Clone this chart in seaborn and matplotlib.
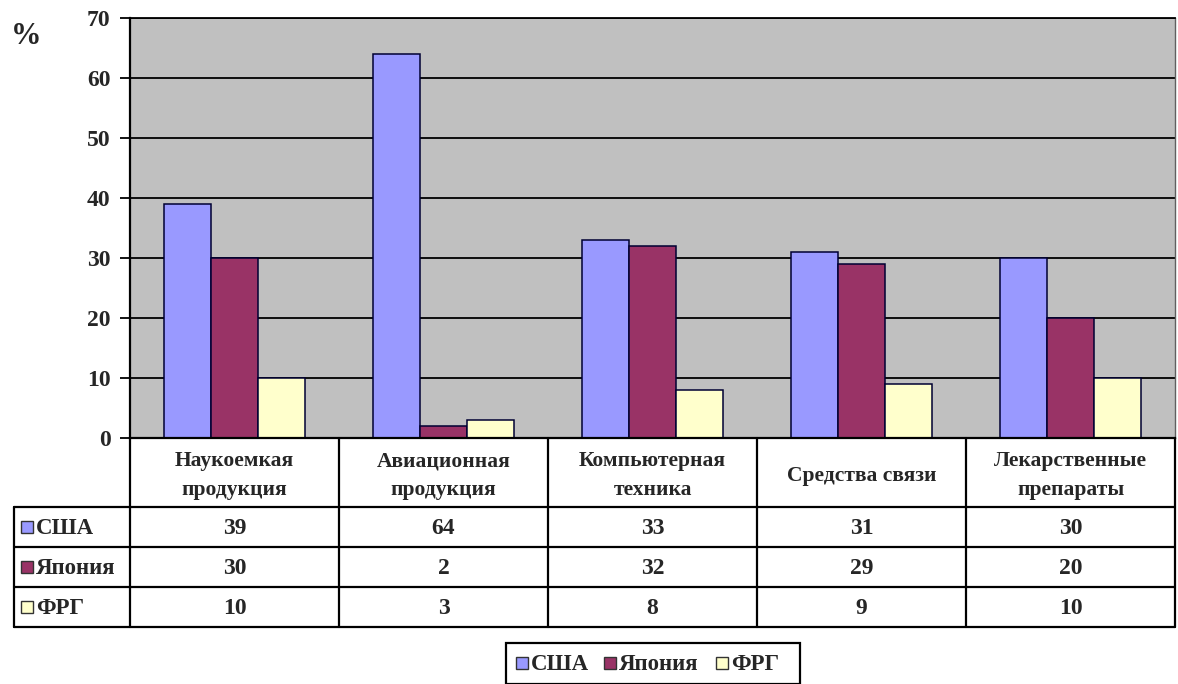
import pandas as pd
import seaborn as sns
import matplotlib.pyplot as plt
from matplotlib.patches import Rectangle

categories = ["Наукоемкая\nпродукция", "Авиационная\nпродукция", "Компьютерная\nтехника",
              "Средства связи", "Лекарственные\nпрепараты"]
countries = ["США", "Япония", "ФРГ"]
usa = [39, 64, 33, 31, 30]
japan = [30, 2, 32, 29, 20]
frg = [10, 3, 8, 9, 10]
colors = ["#9999FF", "#993366", "#FFFFCC"]
yticks = [0, 10, 20, 30, 40, 50, 60, 70]

series = [usa, japan, frg]
rows = []
for c, vals in zip(countries, series):
    for cat, v in zip(categories, vals):
        rows.append({"cat": cat, "country": c, "val": v})
df = pd.DataFrame(rows)

sns.set_style("white")
plt.rcParams["font.family"] = ["Liberation Serif", "DejaVu Serif"]
plt.rcParams["font.weight"] = "bold"

W, H = 1178, 684
fig = plt.figure(figsize=(W / 100, H / 100), dpi=100)

# pixel layout
x0, x1 = 130, 1175
ytop, ybot = 18, 438
ax = fig.add_axes([x0 / W, 1 - ybot / H, (x1 - x0) / W, (ybot - ytop) / H])
ax.set_facecolor("#C0C0C0")
ax.set_axisbelow(True)
ax.yaxis.grid(True, color="black", linewidth=1.3)

sns.barplot(data=df, x="cat", y="val", hue="country", palette=colors, width=0.675,
            gap=0, saturation=1, edgecolor="#000033", linewidth=1.1, ax=ax, legend=False,
            order=categories, hue_order=countries)

ax.set_ylim(0, 70)
ax.set_yticks(yticks)
ax.set_yticklabels([str(t) for t in yticks], fontsize=17, fontweight="bold")
ax.set_xticks([])
ax.set_xlabel("")
ax.set_ylabel("")
ax.set_xlim(-0.5, len(categories) - 0.5)
ax.tick_params(axis="y", left=True, length=7, width=1.3, color="black", pad=7)
ax.spines["top"].set_color("black")
ax.spines["top"].set_linewidth(1.3)
ax.spines["right"].set_color("#606060")
ax.spines["right"].set_linewidth(1)
ax.spines["left"].set_color("black")
ax.spines["left"].set_linewidth(1.6)
ax.spines["bottom"].set_color("black")
ax.spines["bottom"].set_linewidth(1.6)

fig.text(11 / W, 1 - 36 / H, "%", fontsize=22, fontweight="bold", va="center", ha="left")

# data table drawn in pixel space
tx = fig.add_axes([0, 0, 1, 1], facecolor="none")
tx.set_xlim(0, W)
tx.set_ylim(H, 0)
tx.axis("off")

colw = (x1 - x0) / len(categories)
row_y = [438, 507, 547, 587, 627]
lk = dict(color="black", linewidth=1.6)
for i in range(len(categories) + 1):
    xx = x0 + i * colw
    tx.plot([xx, xx], [row_y[0], row_y[-1]], **lk)
for yy in row_y[1:]:
    tx.plot([14, x1], [yy, yy], **lk)
tx.plot([14, 14], [row_y[1], row_y[-1]], **lk)

for i, cat in enumerate(categories):
    cx = x0 + (i + 0.5) * colw
    tx.text(cx, (row_y[0] + row_y[1]) / 2 + 3, cat, ha="center", va="center",
            fontsize=15.5, fontweight="bold", linespacing=1.6)
    for r, vals in enumerate(series):
        tx.text(cx, (row_y[r + 1] + row_y[r + 2]) / 2 + 2, str(vals[i]), ha="center",
                va="center", fontsize=17, fontweight="bold")

for r, (c, col) in enumerate(zip(countries, colors)):
    yc = (row_y[r + 1] + row_y[r + 2]) / 2
    tx.add_patch(Rectangle((21, yc - 6), 12, 12, facecolor=col, edgecolor="#333333", lw=1))
    tx.text(36, yc + 2, c, ha="left", va="center", fontsize=16.5, fontweight="bold")

# legend
lx0, lx1, ly0, ly1 = 506, 800, 643, 684
tx.add_patch(Rectangle((lx0, ly0), lx1 - lx0, ly1 - ly0, facecolor="white", edgecolor="black", lw=1.6))
offsets = [516, 604, 716]
for xo, c, col in zip(offsets, countries, colors):
    tx.add_patch(Rectangle((xo, 657), 12, 12, facecolor=col, edgecolor="#333333", lw=1))
    tx.text(xo + 15, 664, c, ha="left", va="center", fontsize=16.5, fontweight="bold")

fig.savefig("out.png", dpi=100, facecolor="white")
